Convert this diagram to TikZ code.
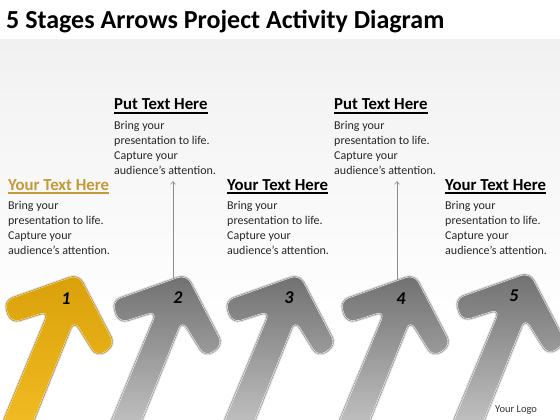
\documentclass[tikz,border=0pt]{standalone}
\usepackage{fontspec}
\setmainfont{Carlito}
\usetikzlibrary{arrows.meta}
\definecolor{headgold}{HTML}{C39A3A}
\definecolor{graytop}{HTML}{707070}
\definecolor{graybot}{HTML}{C4C4C4}
\definecolor{goldtop}{HTML}{D9A00A}
\definecolor{goldbot}{HTML}{F2BC24}
\definecolor{goldedge}{HTML}{8A6200}
\definecolor{goldhi}{HTML}{FFEFA0}
\definecolor{bgtop}{HTML}{F1F1F1}
\newcommand\arrowpath{(-78,155) -- (-28,34) -- (-66,46) -- (-73,24) -- (1.5,-2.5) -- (38,68) -- (20,80) -- (-3,43) -- (-48,155) -- cycle}
\newcommand\stagearrow[7]{% name, x, y, top colour, bottom colour, edge colour, highlight colour
  \begin{scope}[shift={(#2,#3)}, rounded corners=9pt]
    \draw[black!30, line width=3.4pt, opacity=.45] \arrowpath;
    \draw[#6, line width=1.3pt] \arrowpath;
    \shade[top color=#4, bottom color=#5] \arrowpath;
    \draw[#7, line width=0.6pt, opacity=.85] \arrowpath;
  \end{scope}
}
\newcommand\txtblock[5]{% name, x, baseline, heading, colour
  \node[headtxt, text=#5] (#1h) at (#2,#3) {#4};
  \draw[#5, line width=1.4pt] ([yshift=-2.8pt]#1h.base west) -- ([yshift=-2.8pt]#1h.base east);
  \node[bodytxt] (#1a) at (#2,{#3+19}) {Bring your};
  \node[bodytxt] (#1b) at (#2,{#3+34}) {presentation to life.};
  \node[bodytxt] (#1c) at (#2,{#3+49}) {Capture your};
  \node[bodytxt] (#1d) at (#2,{#3+64}) {audience’s attention.};
}
\tikzset{
  headtxt/.style={anchor=base west, inner sep=0pt, font=\bfseries\fontsize{16.8}{18}\selectfont},
  bodytxt/.style={anchor=base west, inner sep=0pt, text=black!85, font=\fontsize{12}{14}\selectfont},
  numtxt/.style={inner sep=0pt, font=\bfseries\itshape\fontsize{18}{20}\selectfont},
  conn/.style={draw=black!45, line width=0.6pt, -{Straight Barb[length=3pt,width=5pt]}}
}
\begin{document}
\begin{tikzpicture}[x=1pt,y=-1pt]
\useasboundingbox (0,0) rectangle (560,420);
\clip (0,0) rectangle (560,420);
\fill[white] (0,0) rectangle (560,40);
\shade[top color=bgtop, bottom color=white] (0,40) rectangle (560,330);
\fill[white] (0,330) rectangle (560,420);
\node[anchor=base west, inner sep=0pt, font=\bfseries\fontsize{26}{30}\selectfont] (title) at (6,29) {5 Stages Arrows Project Activity Diagram};
% text blocks
\txtblock{t1}{8}{190}{Your Text Here}{headgold}
\txtblock{t2}{114}{110}{Put Text Here}{black}
\txtblock{t3}{227}{190}{Your Text Here}{black}
\txtblock{t4}{334}{110}{Put Text Here}{black}
\txtblock{t5}{445}{190}{Your Text Here}{black}
% connectors
\coordinate (c2a) at (173,286);
\coordinate (c2b) at (173,181);
\coordinate (c4a) at (397,288);
\coordinate (c4b) at (397,181);
\draw[conn] (c2a) -- (c2b);
\draw[conn] (c4a) -- (c4b);
% arrows
\stagearrow{a1}{77}{277}{goldtop}{goldbot}{goldedge}{goldhi}
\stagearrow{a2}{185}{277}{graytop}{graybot}{black!60}{white}
\stagearrow{a3}{298}{277}{graytop}{graybot}{black!60}{white}
\stagearrow{a4}{413}{277}{graytop}{graybot}{black!60}{white}
\stagearrow{a5}{528}{275}{graytop}{graybot}{black!60}{white}
\node[numtxt] (n1) at (66,299) {1};
\node[numtxt] (n2) at (178,298) {2};
\node[numtxt] (n3) at (289,298) {3};
\node[numtxt] (n4) at (401,299) {4};
\node[numtxt] (n5) at (514,296) {5};
\node[anchor=base west, inner sep=0pt, text=black!80, font=\fontsize{10.5}{12}\selectfont] (logo) at (495,412) {Your Logo};
\end{tikzpicture}
\end{document}
